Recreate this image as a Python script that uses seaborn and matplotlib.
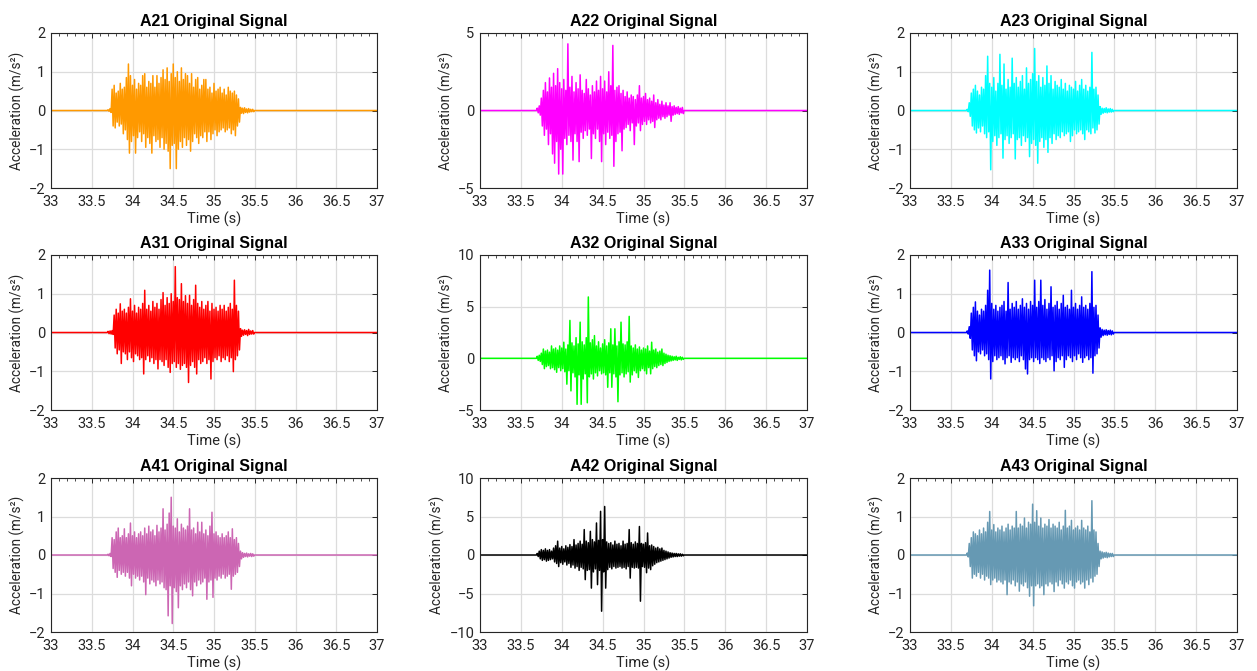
import numpy as np
import pandas as pd
import matplotlib
matplotlib.use("Agg")
import matplotlib.pyplot as plt
import seaborn as sns
from matplotlib.ticker import MultipleLocator, FixedLocator

# ---------------- data (peak envelopes) ----------------
# samples: upper peak at T_START + i*T_STEP, lower peak half a step later
T_START = 33.70
T_STEP = 0.025

titles = ["A21 Original Signal", "A22 Original Signal", "A23 Original Signal",
          "A31 Original Signal", "A32 Original Signal", "A33 Original Signal",
          "A41 Original Signal", "A42 Original Signal", "A43 Original Signal"]
colors = ["#FF9900", "#FF00FF", "#00FFFF",
          "#FF0000", "#00FF00", "#0000FF",
          "#CC66B3", "#000000", "#6699B3"]
ylims = [(-2, 2), (-5, 5), (-2, 2),
         (-2, 2), (-5, 10), (-2, 2),
         (-2, 2), (-10, 10), (-2, 2)]
yticks = [[-2, -1, 0, 1, 2], [-5, 0, 5], [-2, -1, 0, 1, 2],
          [-2, -1, 0, 1, 2], [-5, 0, 5, 10], [-2, -1, 0, 1, 2],
          [-2, -1, 0, 1, 2], [-10, -5, 0, 5, 10], [-2, -1, 0, 1, 2]]
xticks = [33, 33.5, 34, 34.5, 35, 35.5, 36, 36.5, 37]
xticklabels = ["33", "33.5", "34", "34.5", "35", "35.5", "36", "36.5", "37"]

A21_upper = [0.02, 0.05, 0.55, 0.65, 0.45, 0.50, 0.70, 0.55,
             0.60, 0.85, 1.20, 0.90, 0.65, 0.80, 0.55, 0.70,
             0.65, 0.90, 0.95, 0.60, 0.75, 0.70, 0.90, 0.60,
             0.90, 0.70, 0.85, 1.05, 0.80, 1.10, 0.75, 0.95,
             1.20, 0.85, 1.00, 0.75, 1.10, 0.80, 0.95, 0.90,
             0.70, 0.95, 0.60, 0.80, 0.85, 0.55, 0.65, 0.80,
             0.80, 0.55, 0.60, 0.45, 0.70, 0.50, 0.55, 0.60,
             0.45, 0.55, 0.40, 0.60, 0.50, 0.45, 0.50, 0.40,
             0.30, 0.08, 0.06, 0.07, 0.04, 0.05, 0.03, 0.03]
A21_lower = [-0.02, -0.05, -0.40, -0.45, -0.30, -0.40, -0.35, -0.60,
             -0.50, -0.75, -1.10, -0.80, -0.65, -1.10, -0.70, -0.55,
             -0.80, -0.60, -0.95, -0.70, -0.85, -1.10, -0.65, -0.80,
             -0.75, -0.95, -0.70, -1.00, -0.85, -1.05, -1.50, -0.90,
             -0.85, -1.50, -1.00, -0.80, -0.95, -0.70, -0.90, -0.75,
             -1.05, -0.80, -0.60, -0.70, -0.85, -0.65, -0.70, -0.55,
             -0.80, -0.55, -0.75, -0.60, -0.50, -0.65, -0.55, -0.50,
             -0.45, -0.55, -0.50, -0.45, -0.60, -0.50, -0.65, -0.40,
             -0.30, -0.07, -0.08, -0.05, -0.06, -0.04, -0.03, -0.03]

A22_upper = [0.15, 0.30, 0.80, 1.30, 1.80, 1.20, 2.10, 1.50,
             2.40, 1.60, 2.70, 1.80, 1.40, 2.00, 1.30, 4.30,
             1.50, 2.20, 1.20, 1.80, 1.40, 2.30, 1.30, 1.10,
             2.00, 1.40, 1.00, 1.60, 1.20, 1.90, 1.30, 2.20,
             1.40, 1.90, 1.20, 2.50, 1.60, 4.20, 1.30, 1.50,
             1.60, 1.10, 1.30, 0.90, 1.20, 0.80, 1.00, 0.90,
             0.70, 1.00, 1.60, 0.80, 0.90, 1.10, 0.70, 0.80,
             0.60, 1.00, 0.50, 0.70, 0.40, 0.60, 0.35, 0.50,
             0.30, 0.50, 0.25, 0.30, 0.20, 0.25, 0.15, 0.20]
A22_lower = [-0.15, -0.30, -1.00, -1.60, -1.20, -2.20, -1.50, -2.80,
             -3.40, -2.00, -4.10, -2.50, -4.10, -1.80, -2.20, -1.60,
             -2.00, -3.20, -1.50, -2.00, -3.30, -1.40, -1.80, -1.30,
             -1.60, -1.20, -3.10, -1.50, -1.80, -1.20, -2.00, -3.30,
             -1.50, -2.20, -1.40, -1.80, -1.60, -3.60, -2.00, -1.50,
             -1.40, -2.60, -1.20, -1.10, -0.90, -1.30, -0.80, -2.20,
             -1.00, -0.80, -1.30, -0.90, -0.70, -0.90, -0.60, -0.80,
             -0.70, -1.10, -0.60, -0.50, -0.60, -0.40, -0.50, -0.40,
             -0.30, -0.70, -0.30, -0.25, -0.20, -0.25, -0.15, -0.20]

A23_upper = [0.03, 0.20, 0.45, 0.55, 0.65, 0.50, 0.40, 0.60,
             0.55, 0.90, 1.40, 0.70, 0.60, 0.85, 0.50, 0.70,
             1.45, 0.65, 1.20, 0.55, 0.80, 0.60, 1.35, 0.70,
             0.85, 0.60, 0.75, 0.90, 0.55, 1.10, 0.70, 0.80,
             0.95, 1.60, 0.75, 0.90, 0.60, 0.85, 0.65, 1.15,
             0.70, 0.90, 0.55, 0.75, 0.65, 0.60, 0.80, 0.55,
             0.70, 0.50, 0.65, 0.60, 0.55, 0.75, 0.50, 0.65,
             0.80, 0.55, 0.65, 0.50, 0.60, 1.50, 0.55, 0.60,
             0.40, 0.10, 0.06, 0.05, 0.07, 0.04, 0.05, 0.03]
A23_lower = [-0.03, -0.15, -0.40, -0.50, -0.58, -0.45, -0.55, -0.40,
             -0.60, -0.70, -0.55, -1.53, -0.80, -0.65, -0.90, -0.70,
             -0.60, -1.23, -0.75, -0.65, -0.85, -0.70, -0.60, -1.25,
             -0.75, -0.70, -0.90, -0.65, -0.80, -0.70, -1.19, -0.85,
             -0.75, -0.90, -1.36, -0.80, -0.70, -0.95, -0.75, -1.08,
             -0.70, -0.85, -0.60, -0.75, -0.65, -0.70, -0.55, -0.65,
             -0.60, -0.55, -0.80, -0.65, -0.50, -0.60, -0.55, -0.50,
             -0.60, -0.75, -0.50, -0.55, -0.60, -0.45, -0.58, -0.50,
             -0.35, -0.10, -0.07, -0.05, -0.06, -0.04, -0.04, -0.03]

A31_upper = [0.03, 0.04, 0.05, 0.45, 0.60, 0.50, 0.74, 0.55,
             0.60, 0.50, 0.65, 0.87, 0.55, 0.70, 0.50, 0.65,
             0.60, 0.75, 1.09, 0.60, 0.70, 0.55, 0.80, 0.65,
             0.75, 0.60, 0.85, 1.03, 0.70, 0.90, 0.75, 1.00,
             0.80, 1.70, 0.90, 0.85, 1.26, 0.80, 0.95, 0.75,
             0.96, 0.70, 0.85, 1.22, 0.75, 0.65, 0.80, 0.60,
             0.70, 0.80, 0.55, 0.75, 0.60, 0.65, 0.55, 0.70,
             0.60, 0.70, 0.55, 0.65, 0.75, 0.60, 1.35, 0.70,
             0.55, 0.10, 0.06, 0.07, 0.05, 0.08, 0.04, 0.05]
A31_lower = [-0.03, -0.04, -0.05, -0.40, -0.55, -0.45, -0.80, -0.50,
             -0.55, -0.70, -0.50, -0.65, -0.75, -0.55, -0.60, -0.70,
             -0.65, -1.07, -0.70, -0.60, -0.75, -0.65, -0.80, -0.70,
             -0.94, -0.70, -0.75, -0.85, -0.70, -0.90, -1.03, -0.80,
             -0.75, -0.90, -0.80, -0.95, -0.85, -0.80, -0.90, -1.29,
             -0.85, -0.75, -0.90, -1.07, -0.70, -0.80, -0.75, -0.65,
             -0.80, -0.70, -1.20, -0.75, -0.65, -0.70, -0.60, -0.75,
             -0.65, -0.70, -0.60, -0.75, -0.65, -1.01, -0.70, -0.60,
             -0.45, -0.10, -0.07, -0.05, -0.08, -0.05, -0.04, -0.04]

A32_upper = [0.20, 0.30, 0.50, 0.90, 0.70, 0.80, 0.60, 1.20,
             0.90, 1.00, 0.80, 1.20, 1.00, 1.56, 0.90, 1.30,
             3.67, 1.50, 1.20, 2.00, 1.40, 3.50, 1.60, 1.30,
             2.00, 5.94, 1.50, 1.80, 2.20, 1.20, 1.60, 1.00,
             1.40, 1.80, 1.20, 1.50, 2.86, 1.30, 2.86, 1.20,
             1.60, 3.50, 1.40, 1.30, 1.60, 4.06, 1.20, 1.00,
             1.30, 0.90, 1.10, 0.80, 1.00, 0.90, 1.20, 0.70,
             1.56, 0.80, 0.90, 0.60, 0.70, 0.90, 0.50, 0.40,
             0.30, 0.25, 0.20, 0.15, 0.20, 0.10, 0.15, 0.10]
A32_lower = [-0.20, -0.30, -0.60, -1.00, -0.80, -0.70, -1.00, -0.90,
             -1.10, -1.35, -0.90, -1.20, -1.00, -1.30, -2.50, -1.20,
             -3.15, -1.40, -1.80, -4.45, -1.60, -4.45, -2.00, -1.50,
             -4.30, -1.80, -1.50, -2.00, -1.40, -1.70, -1.20, -1.50,
             -1.40, -1.60, -2.80, -1.40, -2.80, -1.50, -1.80, -4.20,
             -1.60, -1.40, -1.80, -1.50, -1.30, -2.30, -1.60, -1.20,
             -1.40, -1.85, -1.20, -1.00, -1.20, -1.50, -0.90, -1.50,
             -1.00, -0.80, -0.90, -0.70, -0.60, -0.70, -0.50, -0.40,
             -0.30, -0.25, -0.20, -0.15, -0.20, -0.10, -0.15, -0.10]

A33_upper = [0.04, 0.15, 0.50, 0.65, 0.79, 0.55, 0.45, 0.60,
             0.55, 0.70, 1.09, 1.61, 0.75, 0.60, 0.70, 0.55,
             0.65, 0.70, 0.80, 0.55, 1.29, 0.60, 0.75, 0.65,
             0.80, 0.60, 0.70, 0.87, 0.65, 0.75, 0.60, 0.80,
             0.70, 1.35, 0.65, 0.80, 1.35, 0.70, 0.85, 0.60,
             0.75, 1.18, 0.65, 0.70, 0.80, 0.60, 0.75, 0.96,
             0.65, 0.70, 0.60, 1.09, 0.65, 0.75, 0.60, 0.70,
             0.92, 0.65, 0.70, 0.60, 0.75, 1.57, 0.65, 0.70,
             0.45, 0.12, 0.08, 0.06, 0.07, 0.05, 0.06, 0.04]
A33_lower = [-0.04, -0.15, -0.45, -0.60, -0.73, -0.50, -0.55, -0.45,
             -0.60, -0.55, -0.70, -1.20, -0.75, -0.60, -0.70, -0.65,
             -0.60, -0.70, -0.81, -0.65, -0.60, -0.77, -0.65, -0.70,
             -0.65, -0.75, -0.60, -0.70, -0.94, -1.07, -0.70, -0.65,
             -0.75, -0.65, -0.70, -0.80, -0.65, -0.70, -0.75, -0.65,
             -0.70, -0.60, -0.99, -0.75, -0.65, -0.70, -0.60, -0.90,
             -0.70, -0.60, -0.65, -0.75, -0.60, -0.70, -0.55, -0.65,
             -0.77, -0.65, -0.60, -0.70, -0.65, -1.05, -0.60, -0.55,
             -0.40, -0.12, -0.08, -0.06, -0.07, -0.05, -0.06, -0.04]

A41_upper = [0.02, 0.04, 0.45, 0.40, 0.60, 0.70, 0.45, 0.50,
             0.68, 0.45, 0.55, 0.83, 0.50, 0.60, 0.45, 0.55,
             0.60, 0.50, 0.70, 0.55, 0.75, 0.60, 0.65, 0.50,
             0.77, 0.60, 0.70, 1.20, 0.65, 0.80, 1.09, 1.50,
             0.75, 0.70, 0.94, 0.60, 0.80, 0.70, 0.65, 0.75,
             1.20, 0.65, 0.70, 0.55, 0.85, 0.60, 0.85, 0.55,
             0.65, 0.50, 0.75, 1.11, 0.55, 0.60, 0.50, 0.45,
             0.55, 0.45, 0.50, 0.60, 0.45, 0.68, 0.40, 0.45,
             0.30, 0.10, 0.06, 0.04, 0.05, 0.03, 0.04, 0.03]
A41_lower = [-0.02, -0.04, -0.35, -0.45, -0.58, -0.40, -0.50, -0.45,
             -0.55, -0.45, -0.60, -0.80, -0.50, -0.60, -0.55, -0.65,
             -0.55, -0.70, -1.03, -0.60, -0.75, -0.65, -0.70, -0.80,
             -0.65, -0.75, -0.70, -0.85, -0.90, -1.58, -0.80, -1.78,
             -0.85, -0.95, -1.37, -0.80, -0.90, -0.75, -0.85, -0.70,
             -0.90, -1.06, -0.70, -0.80, -0.65, -0.75, -0.70, -0.60,
             -1.15, -0.70, -0.65, -1.10, -0.60, -0.65, -0.55, -0.60,
             -0.50, -0.60, -0.55, -0.50, -0.89, -0.55, -0.50, -0.45,
             -0.30, -0.10, -0.06, -0.04, -0.05, -0.03, -0.04, -0.03]

A42_upper = [0.20, 0.50, 0.70, 0.60, 0.80, 0.60, 0.70, 0.50,
             0.90, 1.20, 1.80, 0.90, 1.10, 0.80, 1.20, 1.00,
             1.35, 1.10, 2.00, 1.30, 1.50, 1.80, 1.40, 3.30,
             1.80, 1.60, 3.07, 2.00, 1.70, 4.16, 1.90, 5.67,
             2.00, 6.30, 1.70, 1.50, 1.60, 1.30, 1.80, 1.40,
             1.50, 1.20, 1.80, 1.40, 1.50, 3.30, 1.60, 1.40,
             1.70, 1.50, 3.70, 1.50, 1.40, 1.60, 2.86, 1.20,
             1.30, 1.10, 0.90, 1.00, 0.80, 0.90, 0.60, 0.50,
             0.40, 0.30, 0.25, 0.20, 0.20, 0.15, 0.15, 0.10]
A42_lower = [-0.20, -0.50, -0.70, -0.60, -0.80, -0.70, -0.60, -0.50,
             -0.90, -1.10, -1.50, -1.00, -1.20, -0.90, -1.30, -1.10,
             -1.60, -1.30, -1.70, -1.50, -2.00, -1.60, -1.80, -3.20,
             -2.00, -1.90, -4.30, -2.20, -1.80, -3.85, -2.00, -7.30,
             -2.20, -4.30, -1.90, -1.60, -1.80, -1.50, -1.70, -1.60,
             -1.50, -1.70, -1.60, -1.80, -1.50, -3.00, -1.60, -1.70,
             -1.60, -1.70, -6.00, -1.50, -1.60, -2.30, -1.70, -1.90,
             -1.40, -1.20, -1.00, -0.90, -0.80, -0.70, -0.60, -0.50,
             -0.40, -0.30, -0.25, -0.20, -0.20, -0.15, -0.15, -0.10]

A43_upper = [0.05, 0.30, 0.45, 0.60, 0.55, 0.50, 0.65, 0.55,
             0.70, 0.60, 0.85, 1.13, 0.65, 0.79, 0.60, 0.70,
             0.65, 0.75, 0.60, 0.70, 0.80, 0.65, 0.75, 0.70,
             1.13, 0.70, 0.80, 0.75, 0.96, 0.70, 0.85, 0.80,
             1.32, 0.85, 1.15, 0.75, 0.96, 0.70, 0.80, 0.75,
             0.92, 0.70, 0.80, 0.75, 0.70, 0.85, 0.65, 0.75,
             1.16, 0.70, 0.75, 0.90, 0.65, 0.70, 0.75, 0.65,
             0.90, 0.70, 0.65, 0.75, 0.60, 1.41, 0.65, 0.60,
             0.30, 0.10, 0.08, 0.06, 0.07, 0.05, 0.04, 0.04]
A43_lower = [-0.05, -0.30, -0.60, -0.50, -0.55, -0.45, -0.60, -0.50,
             -0.65, -0.55, -0.60, -0.77, -0.65, -0.60, -0.70, -0.65,
             -0.70, -0.75, -0.65, -1.03, -0.70, -0.75, -0.65, -0.80,
             -0.70, -0.94, -0.75, -0.80, -0.70, -0.85, -1.07, -0.80,
             -1.32, -0.80, -0.75, -0.85, -0.80, -1.03, -0.75, -0.80,
             -0.70, -0.75, -0.95, -0.70, -0.80, -0.65, -0.75, -0.86,
             -0.70, -0.75, -0.65, -0.80, -0.86, -0.70, -0.65, -0.75,
             -0.70, -0.86, -0.65, -0.77, -0.60, -0.70, -0.55, -0.50,
             -0.30, -0.10, -0.08, -0.06, -0.07, -0.05, -0.04, -0.04]

uppers = [A21_upper, A22_upper, A23_upper, A31_upper, A32_upper,
          A33_upper, A41_upper, A42_upper, A43_upper]
lowers = [A21_lower, A22_lower, A23_lower, A31_lower, A32_lower,
          A33_lower, A41_lower, A42_lower, A43_lower]

# ---------------- style ----------------
sns.set_style("white")
plt.rcParams["font.family"] = ["Roboto", "DejaVu Sans"]
TXT = "#262626"

W, H = 1257, 671
fig = plt.figure(figsize=(W / 100, H / 100), dpi=100)

col_px = [(51, 326), (480, 327), (910, 327)]
row_px = [(33, 188), (255, 410), (478, 632)]


def build_frame(upper, lower):
    n = len(upper)
    t_up = T_START + T_STEP * np.arange(n)
    t_lo = t_up + T_STEP / 2
    t = np.empty(2 * n)
    a = np.empty(2 * n)
    t[0::2], t[1::2] = t_up, t_lo
    a[0::2], a[1::2] = upper, lower
    t = np.concatenate([[33.0, T_START - 0.01], t, [t_lo[-1] + 0.01, 37.0]])
    a = np.concatenate([[0.0, 0.0], a, [0.0, 0.0]])
    return pd.DataFrame({"t": t, "a": a})


for k in range(9):
    r, c = divmod(k, 3)
    x0, w = col_px[c]
    top, bot = row_px[r]
    ax = fig.add_axes([x0 / W, 1 - bot / H, w / W, (bot - top) / H])
    df = build_frame(uppers[k], lowers[k])
    sns.lineplot(data=df, x="t", y="a", ax=ax, color=colors[k],
                 linewidth=1.1, sort=False, estimator=None)
    ax.set_xlim(33, 37)
    ax.set_ylim(*ylims[k])
    ax.xaxis.set_major_locator(FixedLocator(xticks))
    ax.set_xticklabels(xticklabels)
    ax.xaxis.set_minor_locator(MultipleLocator(0.1))
    ax.yaxis.set_major_locator(FixedLocator(yticks[k]))
    ax.grid(True, which="major", color="#dcdcdc", linewidth=0.9)
    ax.set_axisbelow(True)
    ax.tick_params(which="both", direction="in", top=True, right=True,
                   colors=TXT, labelsize=10.5, pad=4)
    ax.tick_params(axis="x", which="both", pad=5)
    ax.tick_params(which="major", length=3.5, width=0.7)
    ax.tick_params(which="minor", length=2, width=0.6)
    for s in ax.spines.values():
        s.set_color(TXT)
        s.set_linewidth(0.8)
        s.set_visible(True)
    ax.set_xlabel("Time (s)", fontsize=10.5, color=TXT, labelpad=2)
    ax.set_ylabel("Acceleration (m/s²)", fontsize=9.8, color=TXT, labelpad=3)
    ax.set_title(titles[k], fontsize=11.5, fontweight="bold", color="#000000",
                 family=["Liberation Sans", "DejaVu Sans"], pad=5)

fig.savefig("out.png", dpi=100)
